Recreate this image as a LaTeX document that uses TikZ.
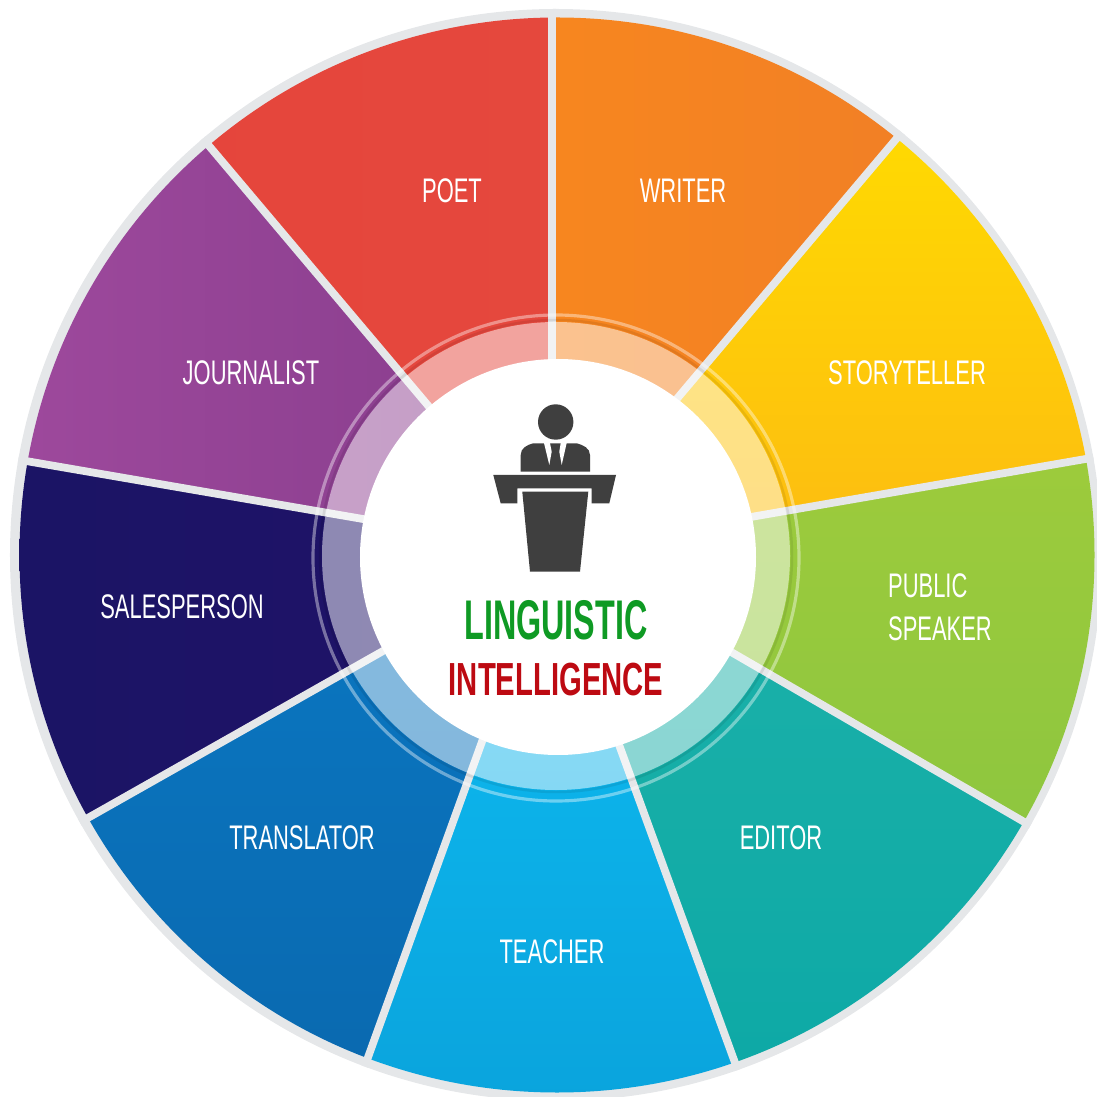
\documentclass[tikz,border=0pt]{standalone}
\usepackage{fontspec}
\newfontfamily\labelfont[FakeStretch=0.643]{Liberation Sans}
\newfontfamily\titlefont[FakeStretch=0.578]{Liberation Sans}
\newfontfamily\subtitlefont[FakeStretch=0.63]{Liberation Sans}
\definecolor{gapgray}{HTML}{E5E7E9}
\definecolor{podium}{HTML}{3F3F3F}
\definecolor{titlegreen}{HTML}{0F9A24}
\definecolor{titlered}{HTML}{BD0A12}
\definecolor{poetA}{HTML}{E5453C}
\definecolor{poetB}{HTML}{E5483D}
\definecolor{writerA}{HTML}{F7861F}
\definecolor{writerB}{HTML}{F17F26}
\definecolor{storyA}{HTML}{FFDC00}
\definecolor{storyB}{HTML}{FDBE10}
\definecolor{speakerA}{HTML}{9DCB3C}
\definecolor{speakerB}{HTML}{8DC63F}
\definecolor{editorA}{HTML}{1AB0A8}
\definecolor{editorB}{HTML}{0CA8A6}
\definecolor{teacherA}{HTML}{0DB5EC}
\definecolor{teacherB}{HTML}{0AA3DC}
\definecolor{transA}{HTML}{0A75BF}
\definecolor{transB}{HTML}{0A68AE}
\definecolor{salesA}{HTML}{1A1464}
\definecolor{salesB}{HTML}{1F1368}
\definecolor{journalA}{HTML}{A04A9E}
\definecolor{journalB}{HTML}{8B3F8F}
\tikzset{
    jobtext/.style={text=white,font=\labelfont\fontsize{9.7}{12.2}\selectfont,align=left},
    gapline/.style={draw=gapgray,line width=2.2pt},
    paleband/.style={fill=white,fill opacity=0.5,even odd rule}
}
\begin{document}
\begin{tikzpicture}[x=0.01cm,y=0.01cm]
        \useasboundingbox (-555,-542) rectangle (542,555);
        \clip (-555,-542) rectangle (542,555);
        \fill[gapgray] (1,0) circle (546);
        % inner and outer ends of the gaps
        \coordinate (hubA) at (-3,168);   \coordinate (tipA) at (-3,600);
        \coordinate (hubB) at (104,135);  \coordinate (tipB) at (380,462);
        \coordinate (hubC) at (167,33);   \coordinate (tipC) at (594,107);
        \coordinate (hubD) at (152,-83);  \coordinate (tipD) at (521,-297);
        \coordinate (hubE) at (55,-165);  \coordinate (tipE) at (202,-568);
        \coordinate (hubF) at (-63,-159); \coordinate (tipF) at (-210,-566);
        \coordinate (hubG) at (-149,-83); \coordinate (tipG) at (-522,-294);
        \coordinate (hubH) at (-163,31);  \coordinate (tipH) at (-593,105);
        \coordinate (hubI) at (-108,127); \coordinate (tipI) at (-383,453);

        \begin{scope}
        \clip (2,0) circle (537.5);
        % top wedges
        \shade[left color=poetA,right color=poetB] (hubI) -- (tipI) -- (tipA) -- (hubA) -- cycle;
        \shade[left color=writerA,right color=writerB] (hubA) -- (tipA) -- (tipB) -- (hubB) -- cycle;
        \shade[top color=storyA,bottom color=storyB] (hubB) -- (tipB) -- (tipC) -- (hubC) -- cycle;
        % right wedges
        \shade[top color=speakerA,bottom color=speakerB] (hubC) -- (tipC) -- (tipD) -- (hubD) -- cycle;
        \shade[top color=editorA,bottom color=editorB] (hubD) -- (tipD) -- (tipE) -- (hubE) -- cycle;
        % bottom wedges
        \shade[top color=teacherA,bottom color=teacherB] (hubE) -- (tipE) -- (tipF) -- (hubF) -- cycle;
        \shade[top color=transA,bottom color=transB] (hubF) -- (tipF) -- (tipG) -- (hubG) -- cycle;
        % left wedges
        \shade[left color=salesA,right color=salesB] (hubG) -- (tipG) -- (tipH) -- (hubH) -- cycle;
        \shade[left color=journalA,right color=journalB] (hubH) -- (tipH) -- (tipI) -- (hubI) -- cycle;
        \end{scope}

        % gaps between wedges
        \begin{scope}
        \clip (1,0) circle (546);
        \draw[gapline] (hubA) -- (tipA);
        \draw[gapline] (hubB) -- (tipB);
        \draw[gapline] (hubC) -- (tipC);
        \draw[gapline] (hubD) -- (tipD);
        \draw[gapline] (hubE) -- (tipE);
        \draw[gapline] (hubF) -- (tipF);
        \draw[gapline] (hubG) -- (tipG);
        \draw[gapline] (hubH) -- (tipH);
        \draw[gapline] (hubI) -- (tipI);
        \end{scope}

        % pale ring round the middle
        \draw[black,opacity=0.08,line width=0.7pt] (1,-1) circle (236);
        \fill[paleband] (1,-1) circle (234) circle (188);
        \draw[white,opacity=0.4,line width=0.9pt] (1,-3) circle (243);
        \fill[white] (3,-2) circle (198);

        % speaker
        \fill[podium] (0.7,133) circle (17.7);
        \fill[podium] (-34.3,83.3) -- (-34.3,100) .. controls (-34.3,107) and (-28,110) .. (-21.7,111.7)
            -- (21.7,111.7) .. controls (28,110) and (35,107) .. (35,100) -- (35,83.3) -- cycle;
        \fill[white] (-11,112) -- (-5,112) -- (-3.3,103.3) -- (-5.7,90) -- cycle;
        \fill[white] (11.7,112) -- (5.7,112) -- (4.3,103.3) -- (6.7,90) -- cycle;
        \fill[podium] (-61.7,80) -- (61,80) -- (54.3,51.7) -- (36.7,51.7) -- (36.7,66.7)
            -- (-37.7,66.7) -- (-37.7,51.7) -- (-54.3,51.7) -- cycle;
        \fill[podium] (-32.7,63.3) -- (33.3,63.3) -- (25,-16.7) -- (-25,-16.7) -- cycle;

        % title
        \node[text=titlegreen,font=\titlefont\bfseries\fontsize{15.9}{18}\selectfont] (linguistic) at (1,-65) {LINGUISTIC};
        \node[text=titlered,font=\subtitlefont\bfseries\fontsize{13.2}{16}\selectfont] (intelligence) at (1,-125) {INTELLIGENCE};

        % wedge labels
        \node[jobtext] (poet) at (-103,364) {POET};
        \node[jobtext] (writer) at (128,364) {WRITER};
        \node[jobtext] (storyteller) at (352,182) {STORYTELLER};
        \node[jobtext] (speaker) at (385,-52) {PUBLIC\\SPEAKER};
        \node[jobtext] (editor) at (226,-283) {EDITOR};
        \node[jobtext] (teacher) at (-3,-397) {TEACHER};
        \node[jobtext] (translator) at (-253,-283) {TRANSLATOR};
        \node[jobtext] (salesperson) at (-373,-52) {SALESPERSON};
        \node[jobtext] (journalist) at (-304,182) {JOURNALIST};

    \end{tikzpicture}
\end{document}
